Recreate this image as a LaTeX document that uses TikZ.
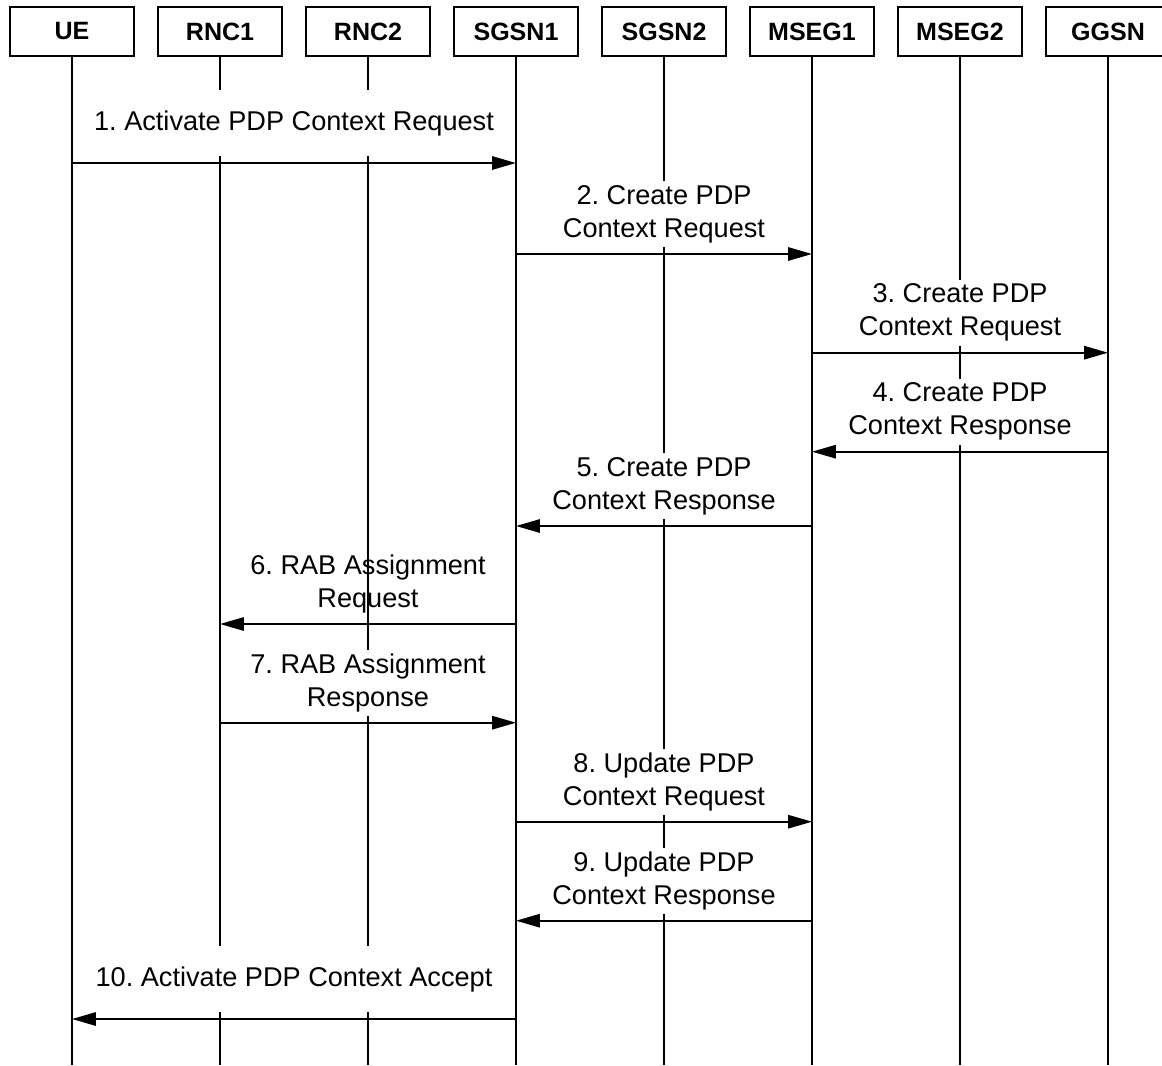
\documentclass[tikz,border=0pt]{standalone}
\usepackage{fontspec}
\setmainfont{Liberation Sans}
\frenchspacing
\usetikzlibrary{arrows.meta, positioning, calc}
\tikzset{
  every picture/.style={line width=1.3pt},
  head/.style={draw, line width=0.9pt, minimum width=3.1cm, minimum height=1.225cm, inner sep=0pt, font=\fontsize{17.8}{21}\selectfont\bfseries},
  life/.style={draw, line width=1.3pt},
  msgarrow/.style={-{Triangle[length=17pt, width=9.5pt]}, line width=1.3pt},
  msglabel/.style={fill=#1, align=center, inner xsep=3pt, inner ysep=0pt, minimum height=1.65cm, font=\fontsize{19.3}{23.5}\selectfont},
  msglabel/.default=white,
}

\begin{document}
\begin{tikzpicture}[x=0.025cm, y=-0.025cm]
  \useasboundingbox (0,0) rectangle (1162,1065);
  \coordinate (bottom) at (0,1065);
  % entities and their lifelines
  \foreach \name [count=\i from 0] in {UE,RNC1,RNC2,SGSN1,SGSN2,MSEG1,MSEG2,GGSN} {
    \node[head] (\name) at ({72+148*\i},31.5) {\name};
    \draw[life] (\name.south) -- (\name |- bottom);
  }
  % messages
  \foreach \k/\from/\to/\y/\f/\txt in {
     1/UE/SGSN1/163/white/{1. Activate PDP Context Request},
     2/SGSN1/MSEG1/254/white/{2. Create PDP\\Context Request},
     3/MSEG1/GGSN/352.7/white/{3. Create PDP\\Context Request},
     4/GGSN/MSEG1/451.7/white/{4. Create PDP\\Context Response},
     5/MSEG1/SGSN1/526/white/{5. Create PDP\\Context Response},
     6/SGSN1/RNC1/624/none/{6. RAB Assignment\\Request},
     7/RNC1/SGSN1/722.7/white/{7. RAB Assignment\\Response},
     8/SGSN1/MSEG1/821.7/white/{8. Update PDP\\Context Request},
     9/MSEG1/SGSN1/920.7/white/{9. Update PDP\\Context Response},
     10/SGSN1/UE/1019/white/{10. Activate PDP Context Accept}} {
    \coordinate (m\k) at (0,\y);
    \draw[msgarrow] (\from |- m\k) -- (\to |- m\k)
      node[msglabel=\f, midway, above=0.15cm] (l\k) {\txt};
  }
\end{tikzpicture}
\end{document}
